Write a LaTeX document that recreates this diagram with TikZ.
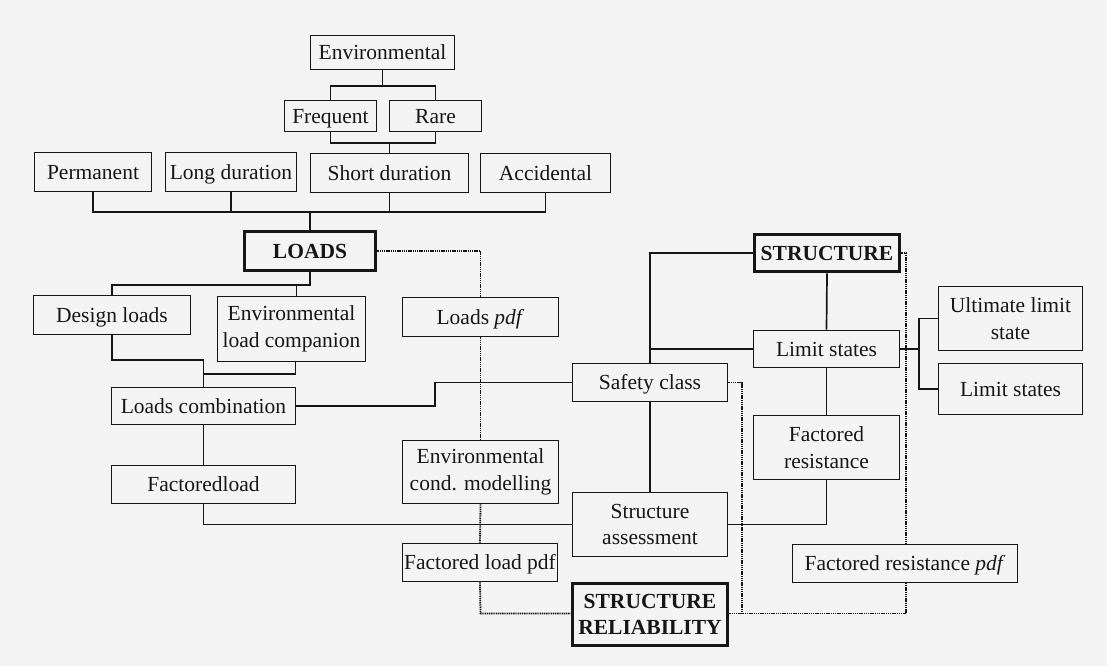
\documentclass[tikz,border=0pt]{standalone}
\usepackage{fontspec}
\setmainfont{Liberation Serif}
\usetikzlibrary{calc}
\definecolor{ink}{HTML}{161616}
\definecolor{paper}{HTML}{F4F4F4}
\pgfdeclarelayer{back}
\pgfdeclarelayer{bg}
\pgfsetlayers{back,bg,main}
\begin{document}
\begin{tikzpicture}[x=1pt,y=-1pt,
  wh/.style 2 args={minimum width=#1pt, minimum height=#2pt},
  box/.style={draw=ink, line width=1.6pt, fill=paper, inner sep=0pt, align=center,
    text=ink, font=\fontsize{21.5}{26.5}\selectfont},
  one/.style={text height=14.2pt, text depth=0pt},
  two/.style={text depth=1pt},
  heavy/.style={box, line width=3.6pt, font=\fontsize{21.5}{26.5}\selectfont\bfseries},
  conn/.style={draw=ink, line width=1.7pt},
  dotl/.style={draw=ink, line width=1.8pt, dash pattern=on 1.4pt off 0.8pt}]
\begin{pgfonlayer}{back}
\fill[paper] (0,0) rectangle (1107,666);
\end{pgfonlayer}
\useasboundingbox (0,0) rectangle (1107,666);

% top
\node[box, one, wh={144}{34}] (env) at (382.5,52.5) {Environmental};
\node[box, one, wh={92}{31}] (freq) at (330.5,116) {Frequent};
\node[box, one, wh={92}{31}] (rare) at (435.5,116) {Rare};
\node[box, one, wh={117}{39}] (perm) at (93,172) {Permanent};
\node[box, one, wh={131}{39}] (long) at (231,172) {Long duration};
\node[box, one, wh={158}{39}] (short) at (389.5,173) {Short duration};
\node[box, one, wh={130}{39}] (acc) at (545.5,173) {Accidental};
\node[heavy, one, wh={131}{39}] (loads) at (310,251) {LOADS};

% loads side
\node[box, one, wh={157}{39}] (design) at (112,315) {Design loads};
\node[box, wh={148}{65}] (elc) at (291.5,329) {Environmental\\load companion};
\node[box, one, wh={156}{39}] (lpdf) at (480.5,317) {Loads \textit{pdf}};
\node[box, one, wh={184}{37}] (lcomb) at (203.5,406) {Loads combination};
\node[box, one, wh={184}{38}] (fload) at (203.5,484.5) {Factoredload};
\node[box, wh={156}{63}] (ecm) at (480.5,472) {Environmental\\cond. modelling};
\node[box, one, wh={155}{38}] (flpdf) at (480,562.5) {Factored load pdf};

% structure side
\node[heavy, one, wh={145}{37}] (struct) at (827,253) {STRUCTURE};
\node[box, one, wh={146}{37}] (lim) at (826.5,349) {Limit states};
\node[box, wh={144}{64}] (uls) at (1010.5,318.5) {Ultimate limit\\state};
\node[box, one, wh={144}{51}] (lim2) at (1010.5,389) {Limit states};
\node[box, one, wh={155}{38}] (safety) at (650,382.5) {Safety class};
\node[box, wh={146}{64}] (fres) at (826.5,447.5) {Factored\\resistance};
\node[box, wh={155}{64}] (sass) at (650,524.5) {Structure\\assessment};
\node[box, one, wh={225}{38}] (frpdf) at (905,563.5) {Factored resistance \textit{pdf}};
\node[heavy, wh={155}{62}] (srel) at (650,614.5) {STRUCTURE\\RELIABILITY};

\begin{pgfonlayer}{bg}
% environmental tree
\draw[conn] (env.south) -- (env.south |- 0,86);
\draw[conn] (freq.north) -- (freq.north |- 0,86) -- (rare.north |- 0,86) -- (rare.north);
\draw[conn] (freq.south) -- (freq.south |- 0,143) -- (rare.south |- 0,143) -- (rare.south);
\draw[conn] (short.north) -- (short.north |- 0,143);
% load type bus
\draw[conn] (perm.south) -- (perm.south |- 0,212) -- (acc.south |- 0,212) -- (acc.south);
\draw[conn] (long.south) -- (long.south |- 0,212);
\draw[conn] (short.south) -- (short.south |- 0,212);
\draw[conn] (loads.north) -- (loads.north |- 0,212);
% loads branch
\draw[conn] (loads.south) -- (loads.south |- 0,285) -- (design.north |- 0,285) -- (design.north);
\coordinate (elcn) at ($(elc.north)+(5,0)$);
\draw[conn] (elcn) -- (elcn |- 0,285);
\draw[conn] (design.south) -- (design.south |- 0,360) -- (lcomb.north |- 0,360) -- (lcomb.north);
\coordinate (elcs) at ($(elc.south)+(4,0)$);
\draw[conn] (elcs) -- (elcs |- 0,374) -- (lcomb.north |- 0,374);
\draw[conn] (lcomb.south) -- (fload.north);
\coordinate (jog) at (435,382.5);
\draw[conn] (lcomb.east) -| (jog) -- (safety.west);
\draw[conn] (fload.south) |- (sass.west);
% structure branch
\draw[conn] (struct.west) -| (safety.north);
\draw[conn] (safety.north |- lim.west) -- (lim.west);
\draw[conn] (struct.south) -- (lim.north);
\draw[conn] (lim.south) -- (fres.north);
\draw[conn] (fres.south) |- (sass.east);
\draw[conn] (safety.south) -- (sass.north);
\coordinate (lbr) at (919,349);
\draw[conn] (lim.east) -- (lbr);
\draw[conn] (uls.west) -- (uls.west -| lbr) -- (lim2.west -| lbr) -- (lim2.west);
% dotted reliability links
\coordinate (dl) at (480.5,613.5);
\coordinate (dm) at (742,613.5);
\coordinate (dr) at (906,613.5);
\draw[dotl] (loads.east) -| (lpdf.north);
\draw[dotl] (lpdf.south) -- (ecm.north);
\draw[dotl] (ecm.south) -- (flpdf.north);
\draw[dotl] (flpdf.south) -- (dl) -- (srel.west |- dl);
\draw[dotl] (srel.east |- dm) -- (dm) -- (dr);
\draw[dotl] (safety.east) -- (safety.east -| dm) -- (dm);
\draw[dotl] (struct.east) -- (struct.east -| dr) -- (dr);
\end{pgfonlayer}
\end{tikzpicture}
\end{document}
